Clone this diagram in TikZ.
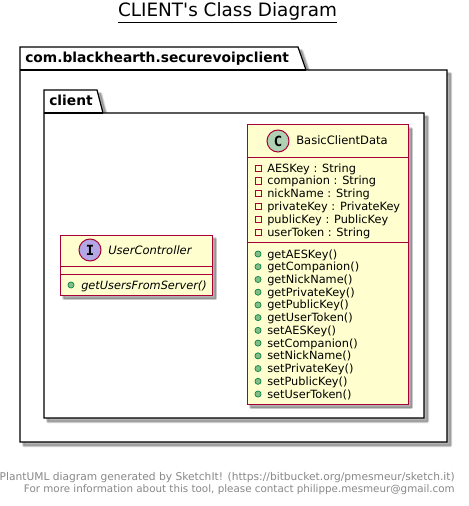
\documentclass[tikz,border=0pt]{standalone}
\usepackage{fontspec}
\usepackage{xcolor}
\usepackage{tikz}
\setmainfont{DejaVu Sans}
\newfontfamily\glyphfont{DejaVu Sans Mono}
\definecolor{classfill}{HTML}{FEFECE}
\definecolor{classline}{HTML}{A80036}
\definecolor{spotc}{HTML}{ADD1B2}
\definecolor{spoti}{HTML}{B4A7E5}
\definecolor{methodgreen}{HTML}{84BE84}
\definecolor{methodline}{HTML}{038048}
\definecolor{footgray}{HTML}{888888}
\tikzset{
  pkgbox/.style={draw=black,line width=.9pt,fill=white},
  classbox/.style={draw=classline,line width=.75pt,fill=classfill},
  sepline/.style={draw=classline,line width=.75pt},
  pkgname/.style={anchor=base west,inner sep=0,font=\fontsize{10.35}{12}\selectfont\bfseries},
  classname/.style={anchor=base west,inner sep=0,font=\fontsize{8.65}{11}\selectfont},
  member/.style={anchor=base west,inner sep=0,font=\fontsize{8.5}{10}\selectfont},
  spot/.style={circle,draw=classline,line width=.75pt,minimum size=16.5pt,inner sep=0,font=\fontsize{10.5}{11}\selectfont\glyphfont\bfseries},
  attrmark/.style={draw=classline,line width=.6pt,fill=none,minimum size=4.6pt,inner sep=0,rectangle},
  methmark/.style={draw=methodline,line width=.5pt,fill=methodgreen,minimum size=4.6pt,inner sep=0,circle},
  footline/.style={anchor=east,inner sep=0,text=footgray}
}
\newcommand{\softshadow}[1]{%
  \foreach \wd in {2.6,2,1.4,.8,.2}{
    \fill[gray,opacity=.16,draw=gray,line width=\wd pt,line join=round,xshift=2.7pt,yshift=-2.7pt] #1;}}
\begin{document}
\begin{tikzpicture}[x=0.75pt,y=-0.75pt]
\useasboundingbox[fill=white] (0,0) rectangle (468,506);
% title
\node[inner sep=0,font=\fontsize{13.8}{16}\selectfont] (title) at (227.5,12.5) {\underline{CLIENT\textquotesingle s Class Diagram}};
% outer package
\softshadow{(20,47)--(298,47)--(306,70)--(447,70)--(447,442)--(20,442)--cycle}
\draw[pkgbox] (20,47)--(298,47)--(306,70)--(447,70)--(447,442)--(20,442)--cycle;
\draw[pkgbox] (20,70)--(306,70);
\node[pkgname] (outername) at (25,63) {com.blackhearth.securevoipclient};
% inner package
\softshadow{(44,90)--(97,90)--(103,113)--(424,113)--(424,418)--(44,418)--cycle}
\draw[pkgbox] (44,90)--(97,90)--(103,113)--(424,113)--(424,418)--(44,418)--cycle;
\draw[pkgbox] (44,113)--(103,113);
\node[pkgname] (innername) at (49,106) {client};
% BasicClientData
\softshadow{(247,125) rectangle (408,404)}
\draw[classbox] (247,125) rectangle (408,404);
\draw[sepline] (247,157)--(408,157); \draw[sepline] (247,242)--(408,242);
\node[spot,fill=spotc] (spotdata) at (278,141) {C};
\node[classname] (dataname) at (296,145) {BasicClientData};
\foreach \txt [count=\i from 0] in {AESKey : String,companion : String,nickName : String,privateKey : PrivateKey,publicKey : PublicKey,userToken : String}{
  \node[attrmark] (attr\i) at (258,168+12.85*\i) {};
  \node[member] (attrtxt\i) at (267,172+12.85*\i) {\txt};
}
\foreach \txt [count=\i from 0] in {getAESKey(),getCompanion(),getNickName(),getPrivateKey(),getPublicKey(),getUserToken(),setAESKey(),setCompanion(),setNickName(),setPrivateKey(),setPublicKey(),setUserToken()}{
  \node[methmark] (meth\i) at (258,254+12.73*\i) {};
  \node[member] (methtxt\i) at (267,258+12.73*\i) {\txt};
}
% UserController
\softshadow{(60,235) rectangle (212,295)}
\draw[classbox] (60,235) rectangle (212,295);
\draw[sepline] (60,266)--(212,266); \draw[sepline] (60,274)--(212,274);
\node[spot,fill=spoti] (spotctrl) at (90,250) {I};
\node[classname,font=\fontsize{8.65}{11}\selectfont\itshape] (ctrlname) at (108,254) {UserController};
\node[methmark] (ctrlmark) at (71,285) {};
\node[member,font=\fontsize{8.5}{10}\selectfont\itshape] (ctrltxt) at (81,289) {getUsersFromServer()};
% footer
\node[footline,font=\fontsize{8}{10}\selectfont] (foot1) at (455,478) {PlantUML diagram generated by SketchIt! (https://bitbucket.org/pmesmeur/sketch.it)};
\node[footline,font=\fontsize{7.75}{10}\selectfont] (foot2) at (455,490) {For more information about this tool, please contact philippe.mesmeur@gmail.com};
\end{tikzpicture}
\end{document}
